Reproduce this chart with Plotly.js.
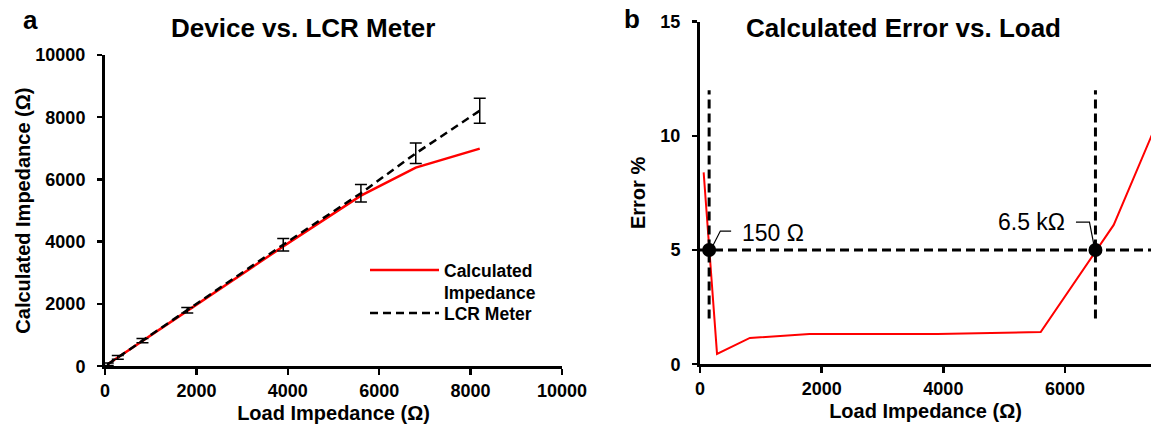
<!DOCTYPE html>
<html>
<head>
<meta charset="utf-8">
<script src="https://cdn.plot.ly/plotly-3.0.1.min.js"></script>
<style>html,body{margin:0;padding:0;background:#fff;}#chart{width:1151px;height:432px;}</style>
</head>
<body>
<div id="chart"></div>
<script>
// ---- data ----
const loadA = [60, 280, 820, 1800, 3900, 5600, 6800, 8200];
const calcImpedance = [65, 280, 812, 1778, 3850, 5480, 6380, 6990];
const lcrImpedance = [60, 280, 822, 1800, 3905, 5560, 6840, 8210];
const lcrError = [40, 60, 70, 90, 200, 280, 330, 400];
const loadB = [60, 280, 820, 1800, 3900, 5600, 6800, 8200];
const errorPct = [8.4, 0.45, 1.15, 1.32, 1.32, 1.41, 6.1, 14.9];
const thresholdPct = 5;
const crossLoads = [150, 6500];
const crossLabels = ['150 Ω', '6.5 kΩ'];
const guideRange = [2, 12];
const ticksA = [0, 2000, 4000, 6000, 8000, 10000];
const ticksBx = [0, 2000, 4000, 6000];
const ticksBy = [0, 5, 10, 15];

const FONT = 'Liberation Sans, Arial, Helvetica, sans-serif';
const W = 1151, H = 432;
const px = v => v / W, py = v => 1 - v / H;

const dashThr = [thresholdPct, thresholdPct];
const traces = [
  {x: loadA, y: calcImpedance, xaxis: 'x', yaxis: 'y', mode: 'lines', name: 'Calculated<br>Impedance',
   legend: 'legend', line: {color: '#ff0000', width: 2.5}},
  {x: loadA, y: lcrImpedance, xaxis: 'x', yaxis: 'y', mode: 'lines', name: 'LCR Meter',
   legend: 'legend2', line: {color: '#000', width: 2.5, dash: '8px,5px'},
   error_y: {type: 'data', array: lcrError, visible: true, color: '#000', thickness: 1.5, width: 6}},
  {x: loadB, y: errorPct, xaxis: 'x2', yaxis: 'y2', mode: 'lines', showlegend: false,
   line: {color: '#ff0000', width: 2}},
  {x: [0, loadB[loadB.length - 1]], y: dashThr, xaxis: 'x2', yaxis: 'y2', mode: 'lines', showlegend: false,
   line: {color: '#000', width: 3, dash: '9px,5px'}},
  {x: [crossLoads[0], crossLoads[0]], y: guideRange, xaxis: 'x2', yaxis: 'y2', mode: 'lines', showlegend: false,
   line: {color: '#000', width: 3, dash: '9px,5px'}},
  {x: [crossLoads[1], crossLoads[1]], y: guideRange, xaxis: 'x2', yaxis: 'y2', mode: 'lines', showlegend: false,
   line: {color: '#000', width: 3, dash: '9px,5px'}},
  {x: crossLoads, y: dashThr, xaxis: 'x2', yaxis: 'y2', mode: 'markers', showlegend: false,
   marker: {color: '#000', size: 14}}
];

const tickFont = {family: FONT, size: 18, color: '#000', weight: 700};
const titleFont = {family: FONT, size: 20, color: '#000', weight: 700};
const legendFont = {family: FONT, size: 17.5, color: '#000', weight: 700};
const baseAxis = {showgrid: false, zeroline: false, showline: true, linecolor: '#000', linewidth: 3,
  ticks: 'outside', ticklen: 6, tickwidth: 2.5, tickcolor: '#000', tickfont: tickFont, fixedrange: true,
  tickformat: 'd'};
const overlayTicks = {showgrid: false, zeroline: false, showline: false, ticks: 'inside', ticklen: 5,
  tickwidth: 2.5, tickcolor: '#000', showticklabels: false, tickmode: 'array', fixedrange: true};

const layout = {
  width: W, height: H,
  margin: {l: 0, r: 0, t: 0, b: 0},
  paper_bgcolor: '#fff', plot_bgcolor: '#fff',
  font: {family: FONT, color: '#000'},
  showlegend: true,
  legend: {x: px(365), y: py(252), xanchor: 'left', yanchor: 'top', bgcolor: 'rgba(0,0,0,0)',
    font: legendFont, itemwidth: 69, valign: 'top'},
  legend2: {x: px(365), y: py(295), xanchor: 'left', yanchor: 'top', bgcolor: 'rgba(0,0,0,0)',
    font: legendFont, itemwidth: 69, valign: 'top'},
  xaxis: Object.assign({}, baseAxis, {domain: [px(105), px(562)], range: [0, 10000], anchor: 'y',
    tickmode: 'array', tickvals: ticksA,
    title: {text: 'Load Impedance (Ω)', font: titleFont, standoff: 7}}),
  yaxis: Object.assign({}, baseAxis, {domain: [py(366.2), py(55)], range: [0, 10000], anchor: 'x',
    tickmode: 'array', tickvals: ticksA, ticklen: 5, ticklabelstandoff: 8,
    title: {text: 'Calculated Impedance (Ω)', font: titleFont, standoff: 0}}),
  xaxis3: Object.assign({}, overlayTicks, {overlaying: 'x', matches: 'x', anchor: 'y', tickvals: ticksA}),
  xaxis2: Object.assign({}, baseAxis, {domain: [px(700), 1], range: [0, 7413], anchor: 'y2',
    tickmode: 'array', tickvals: ticksBx,
    title: {text: 'Load Impedance (Ω)', font: titleFont, standoff: 7}}),
  yaxis2: Object.assign({}, baseAxis, {domain: [py(364.2), py(21.7)], range: [0, 15], anchor: 'x2',
    tickmode: 'array', tickvals: ticksBy, ticklen: 5, ticklabelstandoff: 8,
    title: {text: 'Error %', font: titleFont, standoff: 10}}),
  xaxis4: Object.assign({}, overlayTicks, {overlaying: 'x2', matches: 'x2', anchor: 'y2', tickvals: ticksBx}),
  annotations: [
    {text: 'Device vs. LCR Meter', xref: 'paper', yref: 'paper', x: px(303), y: py(28), xanchor: 'center', yanchor: 'middle',
     showarrow: false, font: {family: FONT, size: 26, color: '#000', weight: 700}},
    {text: 'Calculated Error vs. Load', xref: 'paper', yref: 'paper', x: px(903.5), y: py(28), xanchor: 'center', yanchor: 'middle',
     showarrow: false, font: {family: FONT, size: 26, color: '#000', weight: 700}},
    {text: 'a', xref: 'paper', yref: 'paper', x: px(30.5), y: py(20), xanchor: 'center', yanchor: 'middle',
     showarrow: false, font: {family: FONT, size: 26, color: '#000', weight: 700}},
    {text: 'b', xref: 'paper', yref: 'paper', x: px(632), y: py(19), xanchor: 'center', yanchor: 'middle',
     showarrow: false, font: {family: FONT, size: 26, color: '#000', weight: 700}},
    {text: crossLabels[0], xref: 'x2', yref: 'y2', x: crossLoads[0], y: thresholdPct, xanchor: 'left', yanchor: 'middle',
     xshift: 31, yshift: 17.5, showarrow: false, font: {family: FONT, size: 23, color: '#000'}},
    {text: crossLabels[1], xref: 'x2', yref: 'y2', x: crossLoads[1], y: thresholdPct, xanchor: 'right', yanchor: 'middle',
     xshift: -28.5, yshift: 28, showarrow: false, font: {family: FONT, size: 23, color: '#000'}}
  ],
  shapes: [
    {type: 'path', xref: 'x2', yref: 'y2', xsizemode: 'pixel', ysizemode: 'pixel',
     xanchor: crossLoads[0], yanchor: thresholdPct, path: 'M 3.6,4 L 11.2,19 L 22,19',
     line: {color: '#000', width: 1.2}},
    {type: 'path', xref: 'x2', yref: 'y2', xsizemode: 'pixel', ysizemode: 'pixel',
     xanchor: crossLoads[1], yanchor: thresholdPct, path: 'M -19.5,28 L -6,28 L -1.3,4',
     line: {color: '#000', width: 1.2}}
  ]
};

Plotly.newPlot('chart', traces, layout, {displayModeBar: false, staticPlot: true});
</script>
</body>
</html>
